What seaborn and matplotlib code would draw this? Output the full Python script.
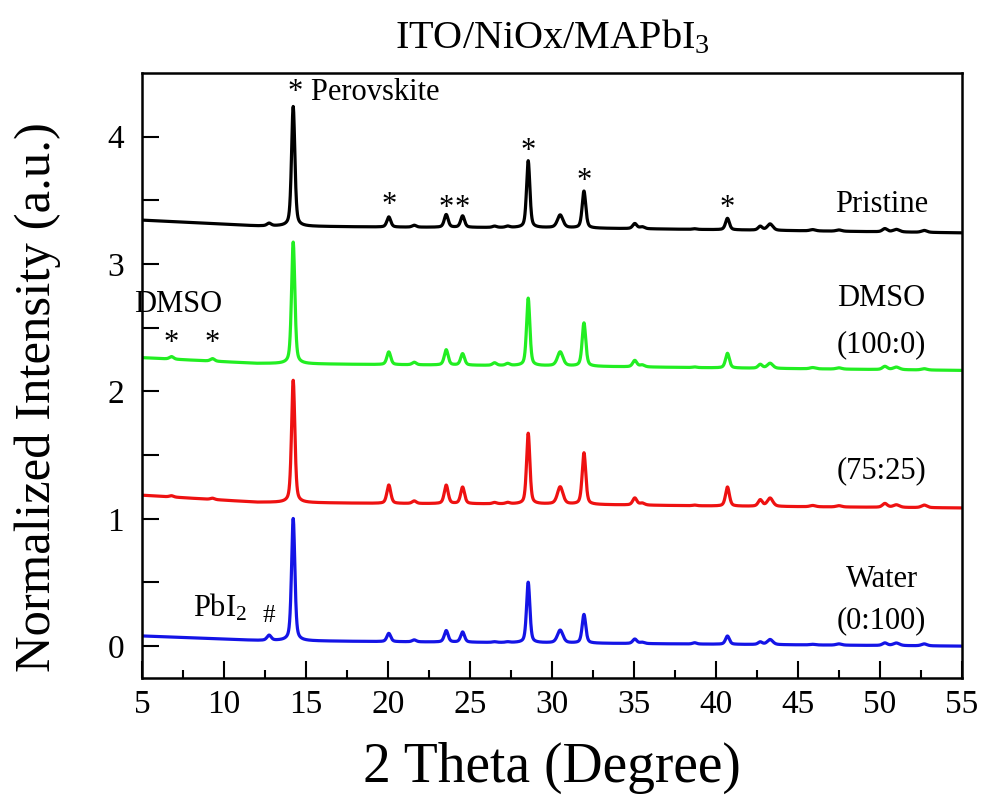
import numpy as np
import pandas as pd
import matplotlib
matplotlib.use("Agg")
import matplotlib.pyplot as plt
import seaborn as sns

# Reflection positions (2 theta, degree) and their widths (FWHM, degree)
peak_pos = [6.8, 9.3, 12.75, 14.22, 20.05, 21.6, 23.55, 24.55, 26.5, 27.3, 28.55,
            30.5, 31.95, 35.05, 35.5, 38.7, 40.7, 42.7, 43.3, 45.9, 47.5, 50.3, 51.0, 52.7]
peak_fwhm = [0.3, 0.3, 0.3, 0.24, 0.28, 0.3, 0.28, 0.28, 0.3, 0.3, 0.24,
             0.4, 0.26, 0.3, 0.35, 0.3, 0.28, 0.3, 0.4, 0.4, 0.4, 0.35, 0.45, 0.4]

# Peak intensities above background for each film
h_pristine = [0, 0, 0.02, 0.94, 0.08, 0.015, 0.10, 0.09, 0.01, 0.01, 0.525,
              0.10, 0.29, 0.04, 0.015, 0.005, 0.09, 0.03, 0.05, 0.01, 0.01, 0.025, 0.02, 0.015]
h_dmso = [0.02, 0.02, 0.0, 0.955, 0.10, 0.02, 0.12, 0.09, 0.02, 0.015, 0.53,
          0.11, 0.34, 0.05, 0.015, 0.005, 0.115, 0.03, 0.04, 0.01, 0.01, 0.025, 0.02, 0.01]
h_mix = [0.01, 0.01, 0.0, 0.96, 0.145, 0.02, 0.145, 0.13, 0.01, 0.01, 0.555,
         0.135, 0.405, 0.055, 0.015, 0.005, 0.15, 0.05, 0.065, 0.01, 0.01, 0.03, 0.02, 0.02]
h_water = [0, 0, 0.04, 0.96, 0.065, 0.015, 0.09, 0.08, 0.005, 0.005, 0.475,
           0.10, 0.225, 0.035, 0.01, 0.01, 0.065, 0.02, 0.04, 0.005, 0.01, 0.02, 0.02, 0.015]

# Background level (already offset) at a few angles
bg_x = [5, 12, 20, 30, 40, 55]
bg_pristine = [3.345, 3.30, 3.29, 3.285, 3.27, 3.245]
bg_dmso = [2.265, 2.22, 2.21, 2.20, 2.185, 2.165]
bg_mix = [1.185, 1.13, 1.12, 1.115, 1.10, 1.085]
bg_water = [0.08, 0.045, 0.035, 0.025, 0.015, 0.0]

samples = ["Pristine", "DMSO (100:0)", "(75:25)", "Water (0:100)"]
heights = [h_pristine, h_dmso, h_mix, h_water]
backgrounds = [bg_pristine, bg_dmso, bg_mix, bg_water]
colors = ["#000000", "#22ee22", "#ee1111", "#1414e6"]


def pattern(theta, heights_, bg_):
    y = np.interp(theta, bg_x, bg_)
    for c, w, h in zip(peak_pos, peak_fwhm, heights_):
        g = np.exp(-4 * np.log(2) * (theta - c) ** 2 / w ** 2)
        lz = 1.0 / (1.0 + 4 * (theta - c) ** 2 / w ** 2)
        y = y + h * (0.55 * g + 0.45 * lz)
    return y


theta = np.linspace(5, 55, 5001)
frames = []
for name, h, bg in zip(samples, heights, backgrounds):
    frames.append(pd.DataFrame({"theta": theta,
                                "intensity": pattern(theta, h, bg),
                                "sample": name}))
df = pd.concat(frames, ignore_index=True)

sns.set_style("ticks")
plt.rcParams["font.family"] = ["Liberation Serif", "DejaVu Serif"]
plt.rcParams["mathtext.fontset"] = "custom"
plt.rcParams["mathtext.rm"] = "Liberation Serif"
plt.rcParams["mathtext.it"] = "Liberation Serif:italic"
plt.rcParams["text.color"] = "black"
plt.rcParams["axes.labelcolor"] = "black"
plt.rcParams["xtick.color"] = "black"
plt.rcParams["ytick.color"] = "black"
plt.rcParams["axes.edgecolor"] = "black"

fig = plt.figure(figsize=(9.82, 8.05), dpi=100)
ax = fig.add_axes([0.1446, 0.1578, 0.835, 0.7515])

sns.lineplot(data=df, x="theta", y="intensity", hue="sample", palette=colors,
             hue_order=samples, estimator=None, sort=False, linewidth=2.3,
             legend=False, ax=ax)

ax.set_xlim(5, 55)
ax.set_ylim(-0.25, 4.5)
ax.set_xticks(np.arange(5, 56, 5))
ax.set_xticks(np.arange(7.5, 55, 5), minor=True)
ax.set_yticks([0, 1, 2, 3, 4])
ax.set_yticks([0.5, 1.5, 2.5, 3.5], minor=True)
ax.tick_params(axis="both", which="both", direction="in", width=1.5,
               labelsize=24, top=False, right=False, colors="black")
ax.tick_params(axis="x", which="major", length=12, pad=8)
ax.tick_params(axis="x", which="minor", length=6)
ax.tick_params(axis="y", which="both", length=12, pad=13)
for s in ax.spines.values():
    s.set_linewidth(1.8)
    s.set_visible(True)
    s.set_color("black")

ax.set_xlabel("2 Theta (Degree)", fontsize=40, labelpad=16)
ax.set_ylabel("Normalized Intensity (a.u.)", fontsize=36.5)
ax.yaxis.set_label_coords(-0.099, 0.465)
ax.set_title("ITO/NiOx/MAPbI$_3$", fontsize=29, pad=18)

fs = 22
# sample labels
ax.text(50.1, 3.47, "Pristine", fontsize=fs, ha="center", va="center")
ax.text(50.1, 2.73, "DMSO", fontsize=fs, ha="center", va="center")
ax.text(50.1, 2.37, "(100:0)", fontsize=fs, ha="center", va="center")
ax.text(50.1, 1.38, "(75:25)", fontsize=fs, ha="center", va="center")
ax.text(50.1, 0.52, "Water", fontsize=fs, ha="center", va="center")
ax.text(50.1, 0.20, "(0:100)", fontsize=fs, ha="center", va="center")

# phase markers
ax.text(13.9, 4.35, "* Perovskite", fontsize=fs, ha="left", va="center")
star_x = [20.05, 23.55, 24.55, 28.55, 31.95, 40.7]
star_y = [3.46, 3.44, 3.44, 3.88, 3.65, 3.44]
for sx, sy in zip(star_x, star_y):
    ax.text(sx, sy, "*", fontsize=fs, ha="center", va="center")
ax.text(7.2, 2.68, "DMSO", fontsize=fs, ha="center", va="center")
for sx in [6.8, 9.3]:
    ax.text(sx, 2.38, "*", fontsize=fs, ha="center", va="center")
ax.text(9.75, 0.30, "PbI$_2$", fontsize=fs, ha="center", va="center")
ax.text(12.75, 0.24, "#", fontsize=18, ha="center", va="center")

fig.savefig("out.png", dpi=100)
